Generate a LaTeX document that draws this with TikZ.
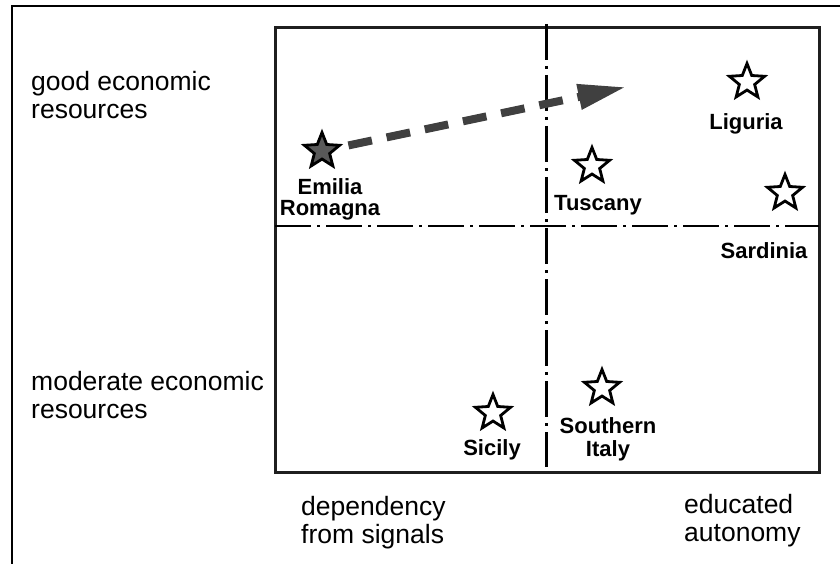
\documentclass[tikz,border=0pt]{standalone}
\usepackage{fontspec}
\setmainfont{Liberation Sans}
\usetikzlibrary{shapes.geometric,arrows.meta}

\tikzset{
  region/.style={star, star points=5, star point ratio=2.3, minimum size=37pt,
    inner sep=0pt, draw=black, line width=2.8pt, fill=white},
  regname/.style={font=\fontsize{22}{21}\selectfont\bfseries, align=center,
    inner sep=0pt, anchor=base},
  axisname/.style={font=\fontsize{26.5}{28}\selectfont, align=left,
    inner sep=0pt, anchor=base west},
  divider/.style={line width=2.6pt, dash pattern=on 36pt off 6pt on 3pt off 6pt},
}

\begin{document}
\begin{tikzpicture}[x=1pt,y=-1pt]
    \useasboundingbox (0,0) rectangle (840,564);
    \draw[line width=2pt] (12,564) -- (12,6) -- (840,6);

    % the field and its quadrants
    \draw[line width=3pt, draw=black!88] (275,28) rectangle (819,472);
    \draw[divider] (275,226) -- (819,226);
    \draw[divider] (546.5,24) -- (546.5,467);

    % axis texts (base = last line)
    \node[axisname] (good) at (31,119) {good economic\\resources};
    \node[axisname] (moderate) at (31,418) {moderate economic\\resources};
    \node[axisname] (dependency) at (301,543) {dependency\\from signals};
    \node[axisname] (autonomy) at (684,541) {educated\\autonomy};

    % regions
    \node[region, fill=black!65] (emilia) at (322,151) {};
    \node[region] (liguria) at (747,82) {};
    \node[region] (tuscany) at (592,166) {};
    \node[region] (sardinia) at (785,193) {};
    \node[region] (sicily) at (493,413) {};
    \node[region] (south) at (602,388) {};

    \node[regname] (emilianame) at (330,215) {Emilia\\Romagna};
    \node[regname] (liguriename) at (746,130) {Liguria};
    \node[regname] (tuscanyname) at (598,211) {Tuscany};
    \node[regname] (sardinianame) at (764,258) {Sardinia};
    \node[regname] (sicilyname) at (492,455) {Sicily};
    \node[regname, font=\fontsize{22}{23}\selectfont\bfseries] (southname) at (608,456) {Southern\\Italy};

    % shift of Emilia Romagna
    \coordinate (aim) at (626,87);
    \draw[line width=8pt, draw=black!75, dash pattern=on 24pt off 15pt,
      shorten <=27pt, -{Triangle[length=48pt,width=24pt]}] (emilia.center) -- (aim);
\end{tikzpicture}
\end{document}
